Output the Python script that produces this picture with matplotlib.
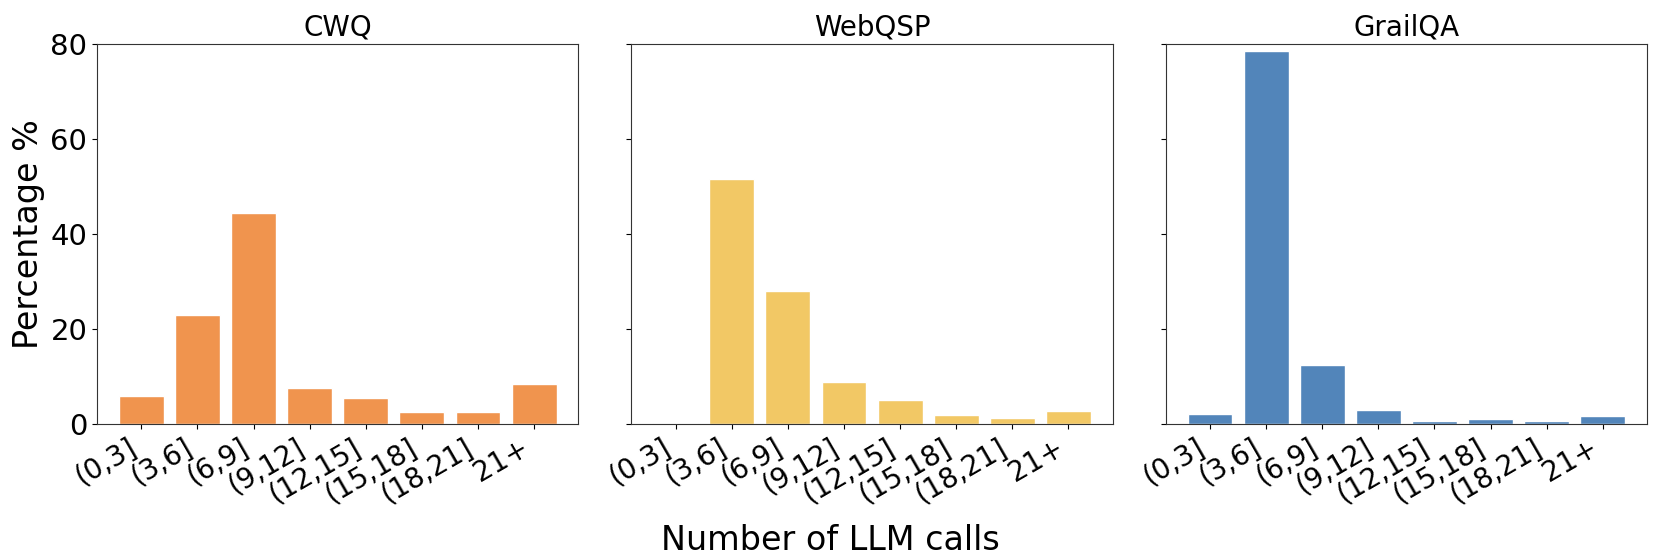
import matplotlib
matplotlib.use('Agg')
import matplotlib.pyplot as plt
import numpy as np

bins = ['(0,3]', '(3,6]', '(6,9]', '(9,12]', '(12,15]', '(15,18]', '(18,21]', '21+']
datasets = ['CWQ', 'WebQSP', 'GrailQA']
cwq = [5.9, 23.0, 44.3, 7.6, 5.4, 2.5, 2.5, 8.4]
webqsp = [0.2, 51.6, 27.9, 8.8, 5.0, 1.9, 1.3, 2.7]
grailqa = [2.1, 78.5, 12.4, 2.9, 0.6, 1.0, 0.6, 1.6]
colors = ['#f0944e', '#f2c865', '#5285ba']

fig, axes = plt.subplots(1, 3, sharey=True)
fig.set_size_inches(16.61, 5.54)
fig.subplots_adjust(left=0.0584, right=0.9916, top=0.921, bottom=0.2347, wspace=0.11)

x = np.arange(len(bins))
for ax, name, vals, c in zip(axes, datasets, [cwq, webqsp, grailqa], colors):
    ax.bar(x, vals, color=c, edgecolor='white', linewidth=1)
    ax.set_title(name, fontsize=20)
    ax.set_xticks(x)
    ax.set_xticklabels(bins, rotation=30, ha='right', fontsize=20)
    ax.tick_params(axis='y', labelsize=21)
    for s in ax.spines.values():
        s.set_color('#333333')

axes[0].set_ylim(0, 80)
axes[0].set_yticks([0, 20, 40, 60, 80])
axes[0].set_ylabel('Percentage %', fontsize=24)
fig.text(0.5, 0.055, 'Number of LLM calls', ha='center', va='top', fontsize=24)

plt.savefig('out.png', dpi=100)
